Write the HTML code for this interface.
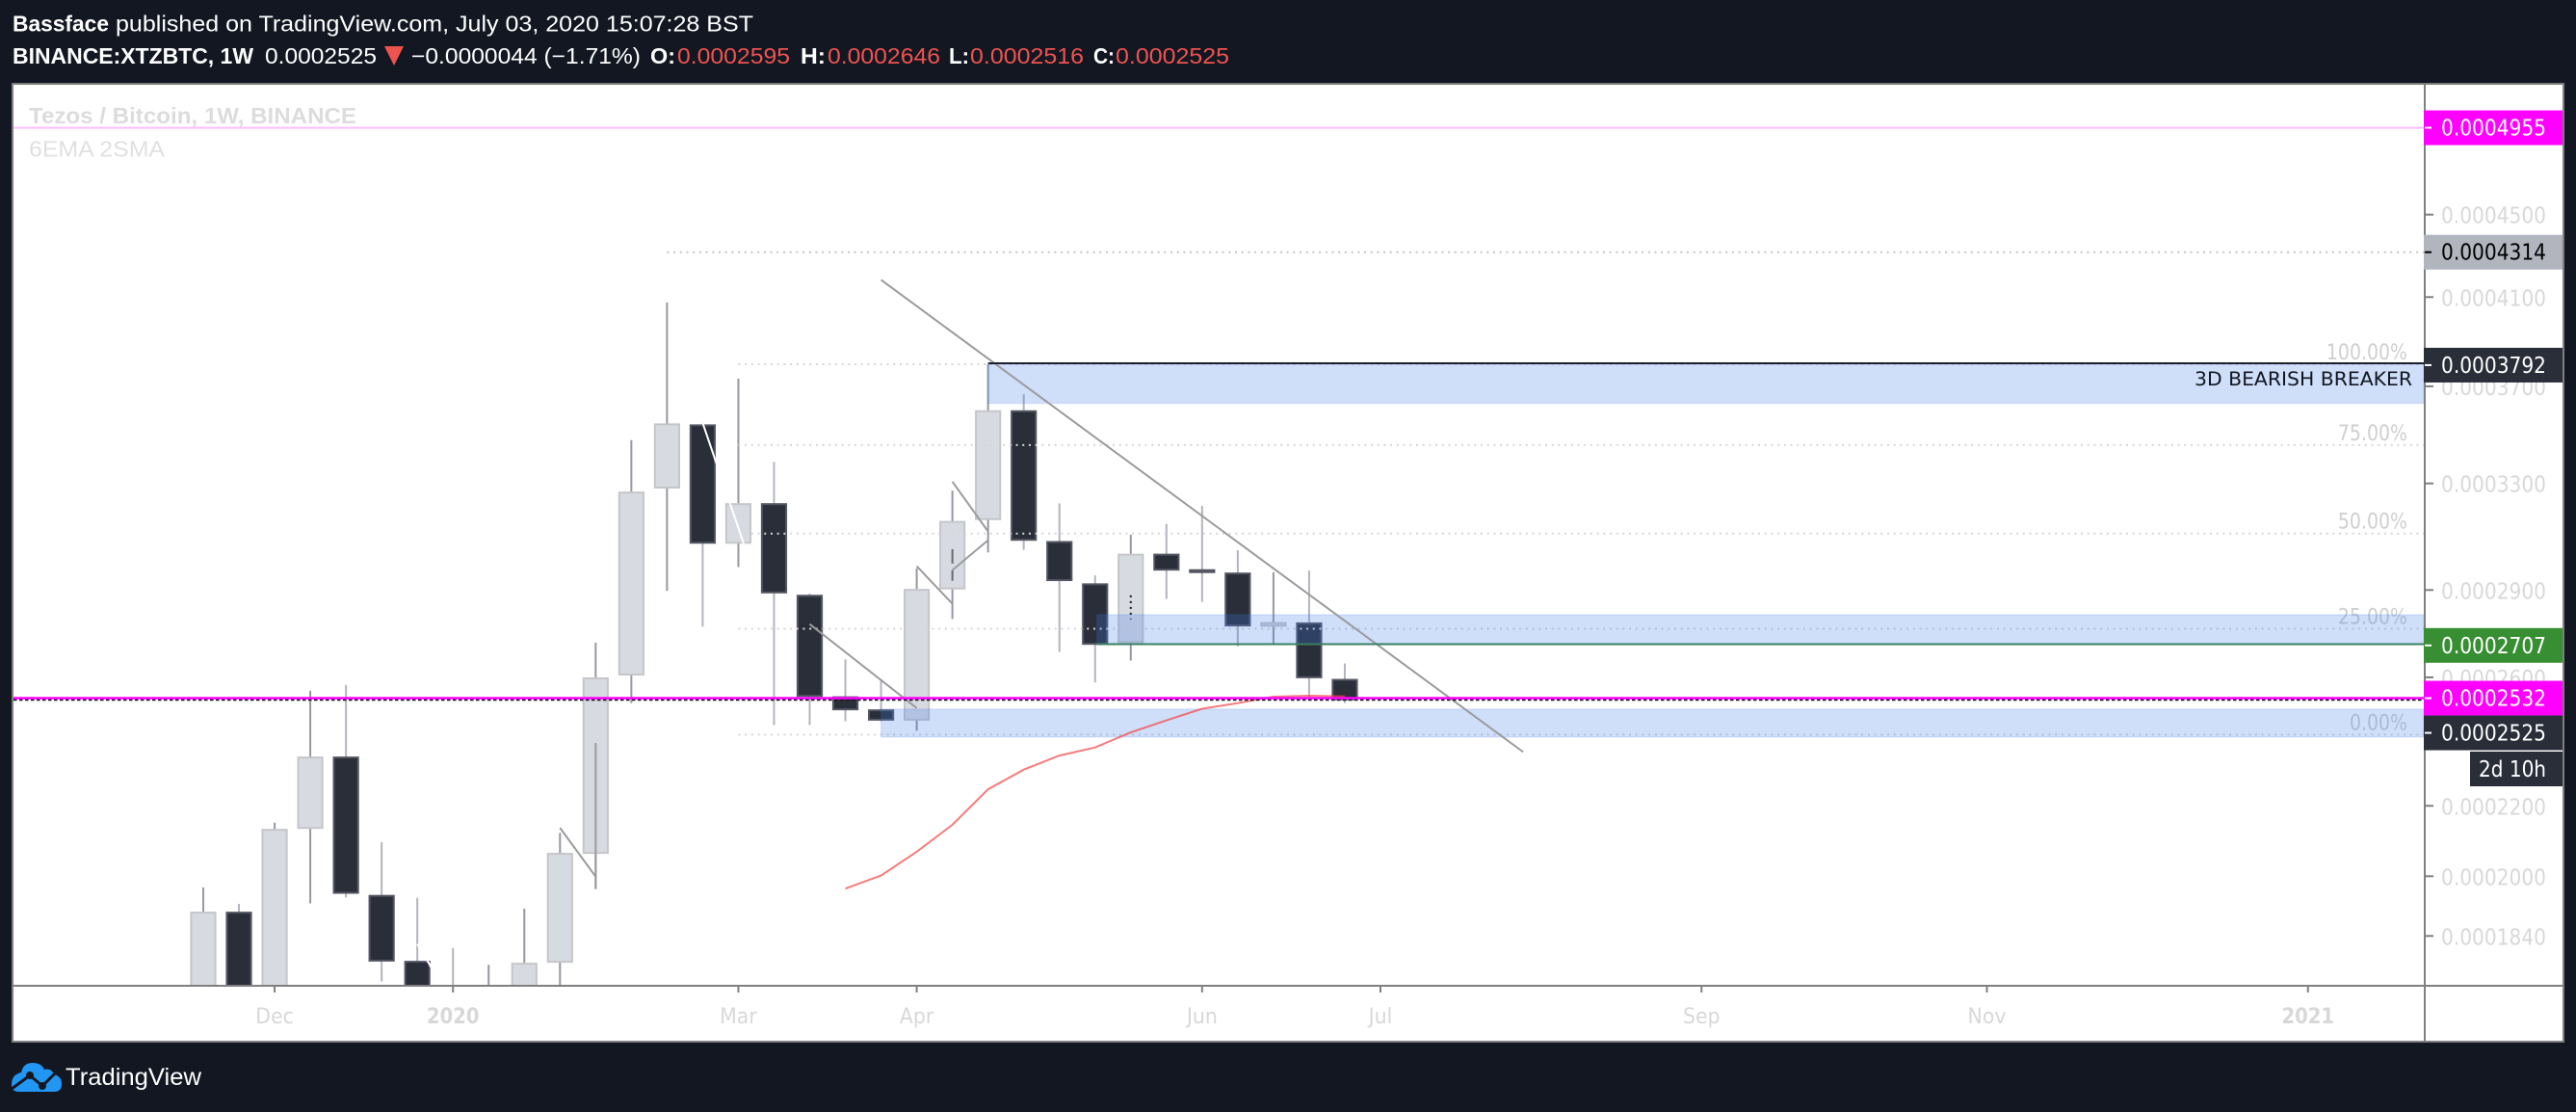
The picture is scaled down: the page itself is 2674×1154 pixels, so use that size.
<!DOCTYPE html>
<html lang="en">
<head>
<meta charset="utf-8">
<title>XTZBTC chart</title>
<style>
  html, body { margin: 0; padding: 0; background: #131722; }
  svg { display: block; }
  .hd { font-family: "Liberation Sans", sans-serif; font-size: 23px; fill: #ffffff; }
  .b { font-weight: bold; }
  .red { fill: #ef5350; }
  .ax { font-family: "DejaVu Sans", sans-serif; font-size: 23px; }
</style>
</head>
<body>
<svg id="root" xmlns="http://www.w3.org/2000/svg" width="2674" height="1154" viewBox="0 0 2674 1154">
  <defs>
    <clipPath id="paneClip"><rect x="14" y="88" width="2502" height="934"></rect></clipPath>
  </defs>
  <rect x="0" y="0" width="2674" height="1154" fill="#131722"></rect>

  <g>
    <text class="hd b" x="13" y="32.5" textLength="100" lengthAdjust="spacingAndGlyphs">Bassface</text>
    <text class="hd" x="120" y="32.5" textLength="662" lengthAdjust="spacingAndGlyphs">published on TradingView.com, July 03, 2020 15:07:28 BST</text>
    <text class="hd b" x="13" y="66" textLength="250" lengthAdjust="spacingAndGlyphs">BINANCE:XTZBTC, 1W</text>
    <text class="hd" x="275" y="66" textLength="116" lengthAdjust="spacingAndGlyphs">0.0002525</text>
    <polygon points="399,48 419,48 409,68" fill="#ef5350"></polygon>
    <text class="hd" x="427" y="66" textLength="238" lengthAdjust="spacingAndGlyphs">−0.0000044 (−1.71%)</text>
    <text class="hd b" x="675" y="66" textLength="26" lengthAdjust="spacingAndGlyphs">O:</text>
    <text class="hd red" x="703" y="66" textLength="117" lengthAdjust="spacingAndGlyphs">0.0002595</text>
    <text class="hd b" x="831" y="66" textLength="26" lengthAdjust="spacingAndGlyphs">H:</text>
    <text class="hd red" x="859" y="66" textLength="117" lengthAdjust="spacingAndGlyphs">0.0002646</text>
    <text class="hd b" x="985" y="66" textLength="21" lengthAdjust="spacingAndGlyphs">L:</text>
    <text class="hd red" x="1007" y="66" textLength="118" lengthAdjust="spacingAndGlyphs">0.0002516</text>
    <text class="hd b" x="1135" y="66" textLength="22" lengthAdjust="spacingAndGlyphs">C:</text>
    <text class="hd red" x="1158" y="66" textLength="118" lengthAdjust="spacingAndGlyphs">0.0002525</text>
  </g>

  <rect x="13" y="87" width="2648" height="994" fill="#ffffff" stroke="#7f7f7f" stroke-width="2"></rect>

  <g id="pane" clip-path="url(#paneClip)">
    <g id="candlesLayer"></g>
    <g id="fibLayer"></g>
    <g id="zoneLayer"></g>
    <g id="emaLayer"></g>
    <g id="drawLayer"></g>
    <g id="levelLayer"></g>
    <text class="ax" x="2278" y="400" textLength="226" lengthAdjust="spacingAndGlyphs" fill="#131722" style="font-size:19.5px">3D BEARISH BREAKER</text>
  </g>

  <text x="30" y="128" font-family="Liberation Sans, sans-serif" font-size="23" font-weight="bold" fill="#dcdcdc" textLength="340" lengthAdjust="spacingAndGlyphs">Tezos / Bitcoin, 1W, BINANCE</text>
  <text x="30" y="162.5" font-family="Liberation Sans, sans-serif" font-size="23" fill="#e0e0e0" textLength="141" lengthAdjust="spacingAndGlyphs">6EMA 2SMA</text>

  <g id="priceAxis"></g>
  <g id="timeAxis"></g>

  <rect x="2516" y="88" width="2" height="992" fill="#7f7f7f"></rect>
  <rect x="14" y="1022" width="2646" height="2" fill="#7f7f7f"></rect>

  <g id="labelLayer"></g>
  <rect x="2564" y="780" width="96" height="36" fill="#2a2e39"></rect>
  <text class="ax" x="2573" y="806" fill="#ffffff" textLength="70" lengthAdjust="spacingAndGlyphs">2d 10h</text>

  <g>
    <path d="M12 1126 Q12 1115 22 1113 Q24 1103 34 1103 Q43 1103 46 1110 Q53 1108 56 1115 Q64 1117 64 1125 Q64 1133 56 1133 L20 1133 Q12 1133 12 1126 Z" fill="#2196f3"></path>
    <polyline points="12,1130 31,1116 44,1127 59,1112" fill="none" stroke="#131722" stroke-width="3"></polyline>
    <circle cx="31" cy="1116" r="4" fill="#131722"></circle>
    <circle cx="44" cy="1127" r="4" fill="#131722"></circle>
    <text x="68" y="1126" font-family="Liberation Sans, sans-serif" font-size="25" fill="#ffffff" textLength="141" lengthAdjust="spacingAndGlyphs">TradingView</text>
  </g>
</svg>

<script>
// ---- Data (prices in units of 1e-7 BTC) ----
const weeks = ["2019-11-18","2019-11-25","2019-12-02","2019-12-09","2019-12-16","2019-12-23","2019-12-30","2020-01-06","2020-01-13","2020-01-20","2020-01-27","2020-02-03","2020-02-10","2020-02-17","2020-02-24","2020-03-02","2020-03-09","2020-03-16","2020-03-23","2020-03-30","2020-04-06","2020-04-13","2020-04-20","2020-04-27","2020-05-04","2020-05-11","2020-05-18","2020-05-25","2020-06-01","2020-06-08","2020-06-15","2020-06-22","2020-06-29"];
const opens  = [1672,1904,1680,2133,2348,1949,1776,1690,1680,1690,1771,2062,2606,3280,3539,3069,3223,2883,2538,2496,2460,2902,3158,3598,3079,2924,2715,3032,2975,2963,2771,2786,2595];
const highs  = [1969,1925,2151,2556,2575,2095,1941,1809,1766,1912,2122,2716,3474,4075,3545,3733,3386,2887,2660,2594,2978,3272,3796,3666,3222,2953,3103,3143,3213,3045,2964,2970,2646];
const lows   = [1650,1650,1660,1926,1942,1724,1650,1650,1650,1670,1690,1965,2516,2897,2771,2983,2446,2446,2458,2458,2428,2798,3037,3046,2685,2583,2656,2868,2858,2704,2713,2536,2516];
const closes = [1904,1680,2133,2348,1952,1774,1680,1680,1690,1771,2065,2600,3268,3543,3069,3223,2888,2536,2493,2460,2904,3155,3598,3080,2932,2709,3032,2970,2961,2772,2787,2597,2525];
const emaStart = 18;
const emaValues = [1966,2002,2068,2145,2249,2308,2351,2376,2423,2461,2498,2516,2537,2540,2538];

const priceTicks = [4500,4100,3700,3300,2900,2600,2200,2000,1840];
const priceTickLabels = ["0.0004500","0.0004100","0.0003700","0.0003300","0.0002900","0.0002600","0.0002200","0.0002000","0.0001840"];
const timeTickWeeks = [2,7,15,20,28,33,42,50,59];
const timeTickLabels = ["Dec","2020","Mar","Apr","Jun","Jul","Sep","Nov","2021"];
const timeTickBold = [false,true,false,false,false,false,false,false,true];

const fibLevels = [3796,3454,3107,2764,2416];
const fibLabels = ["100.00%","75.00%","50.00%","25.00%","0.00%"];
const fibStartWeek = 15;
const grayLevel = 4314;
const grayLevelStartWeek = 13;

const zoneStartWeeks = [22,25.05,19];
const zoneTops = [3796,2813,2497];
const zoneBottoms = [3627,2711,2408];

const axisLabelPrices = [4955,4314,3792,2707,2532,2525];
const axisLabelTexts = ["0.0004955","0.0004314","0.0003792","0.0002707","0.0002532","0.0002525"];
const axisLabelFills = ["#ff00ff","#b2b5be","#2a2e39","#388e32","#ff00ff","#2a2e39"];
const axisLabelInks = ["#ffffff","#000000","#ffffff","#ffffff","#ffffff","#ffffff"];

const trendStartWeeks = [19,17,20,21,21,10];
const trendStartPrices = [4181,2780,2986,2972,3307,2136];
const trendEndWeeks = [37,20,21,22,22,11];
const trendEndPrices = [2362,2500,2851,3082,3115,1999];

const breakerLevel = 3796;
const supportLevel = 2711;
const magentaLevelHigh = 4955;
const magentaLevelLow = 2532;
const lastClose = 2525;

// ---- Axis functions ----
function xOf(week) { return 211 + 37.03 * week; }
function yOf(price) { return 222.7 + 1137 * Math.log(5515 / (price + 1015)); }

const NS = "http://www.w3.org/2000/svg";
function make(tag, parent) {
  const e = document.createElementNS(NS, tag);
  parent.appendChild(e);
  return e;
}
function geom(e, props) {
  for (const k in props) e.setAttribute(k, props[k]);
  return e;
}
function squeeze(t, ratio) {
  t.setAttribute("textLength", (t.getComputedTextLength() * ratio).toFixed(1));
  t.setAttribute("lengthAdjust", "spacingAndGlyphs");
}

const candlesLayer = document.getElementById("candlesLayer");
const fibLayer = document.getElementById("fibLayer");
const zoneLayer = document.getElementById("zoneLayer");
const emaLayer = document.getElementById("emaLayer");
const drawLayer = document.getElementById("drawLayer");
const levelLayer = document.getElementById("levelLayer");
const priceAxis = document.getElementById("priceAxis");
const timeAxis = document.getElementById("timeAxis");
const labelLayer = document.getElementById("labelLayer");

// ---- Candles ----
weeks.forEach(function (wk, i) {
  const up = closes[i] >= opens[i];
  const x = xOf(i);
  const wick = make("line", candlesLayer);
  geom(wick, {x1: x, x2: x, y1: yOf(highs[i]), y2: yOf(lows[i]), stroke: up ? "#9598a1" : "#b2b5be", "stroke-width": 2});
  
  
  const top = yOf(Math.max(opens[i], closes[i]));
  const bot = yOf(Math.min(opens[i], closes[i]));
  const body = make("rect", candlesLayer);
  geom(body, {x: x - 12.6, width: 25.2, y: top + 1, height: Math.max(bot - top - 2, 2),
    fill: up ? "#d8dae1" : "#2a2e39", stroke: up ? "#c5c6ca" : "#545763", "stroke-width": 2});
  
  
});

// ---- Fib ----
fibLevels.forEach(function (lvl, i) {
  const ln = make("line", fibLayer);
  geom(ln, {x1: xOf(fibStartWeek), x2: 2516, y1: yOf(lvl), y2: yOf(lvl), stroke: "#d6d6d6", "stroke-width": 2, "stroke-dasharray": "2 4.7"});
  
  
  const t = make("text", fibLayer);
  geom(t, {x: 2499, y: yOf(lvl) - 5, "text-anchor": "end", fill: "#cfcfcf", "class": "ax", style: "font-size:22.5px"});
  t.textContent = fibLabels[i];
  squeeze(t, 0.84);
  
  
});
const grayLine = make("line", fibLayer);
geom(grayLine, {x1: xOf(grayLevelStartWeek), x2: 2516, y1: yOf(grayLevel), y2: yOf(grayLevel), stroke: "#c4c4c4", "stroke-width": 2, "stroke-dasharray": "2 4.7"});



// ---- Zones ----
zoneStartWeeks.forEach(function (wk, i) {
  const z = make("rect", zoneLayer);
  geom(z, {x: xOf(wk), width: 2516 - xOf(wk), y: yOf(zoneTops[i]), height: yOf(zoneBottoms[i]) - yOf(zoneTops[i]),
    fill: "rgba(62,124,230,0.25)", stroke: "rgba(62,124,230,0.12)", "stroke-width": 1.5});
  
  
});

// ---- EMA ----
const emaLine = make("polyline", emaLayer);
geom(emaLine, {points: emaValues.map(function (v, i) { return xOf(emaStart + i) + "," + yOf(v); }).join(" "),
  fill: "none", stroke: "rgba(244,67,67,0.7)", "stroke-width": 2});



// ---- Trend drawings ----
trendStartWeeks.forEach(function (wk, i) {
  const ln = make("line", drawLayer);
  geom(ln, {x1: xOf(wk), y1: yOf(trendStartPrices[i]), x2: xOf(trendEndWeeks[i]), y2: yOf(trendEndPrices[i]), stroke: "#9b9b9b", "stroke-width": 2});
  
  
});
const vLine = make("line", drawLayer);
geom(vLine, {x1: xOf(11), x2: xOf(11), y1: yOf(2390), y2: yOf(1965), stroke: "#9b9b9b", "stroke-width": 2});


const dashLine = make("line", drawLayer);
geom(dashLine, {x1: xOf(21), x2: xOf(21), y1: yOf(3049), y2: yOf(2933), stroke: "#666a70", "stroke-width": 2, "stroke-dasharray": "15 7"});


const dotLine = make("line", drawLayer);
geom(dotLine, {x1: xOf(26), x2: xOf(26), y1: yOf(2881), y2: yOf(2797), stroke: "#131722", "stroke-width": 2, "stroke-dasharray": "2 4"});


const whiteA = make("line", drawLayer);
geom(whiteA, {x1: xOf(14), y1: yOf(3545), x2: xOf(15.15), y2: yOf(3069), stroke: "#ffffff", "stroke-width": 2});


const whiteB = make("line", drawLayer);
geom(whiteB, {x1: xOf(6), y1: yOf(1819), x2: xOf(6.4), y2: yOf(1758), stroke: "#ffffff", "stroke-width": 2});



// ---- Horizontal levels ----
const breakerLine = make("line", levelLayer);
geom(breakerLine, {x1: xOf(22), x2: 2516, y1: yOf(breakerLevel) - 1, y2: yOf(breakerLevel) - 1, stroke: "#1e222d", "stroke-width": 2});


const supportLine = make("line", levelLayer);
geom(supportLine, {x1: xOf(25.05), x2: 2516, y1: yOf(supportLevel), y2: yOf(supportLevel), stroke: "#3a8063", "stroke-width": 2});


const highLine = make("line", levelLayer);
geom(highLine, {x1: 14, x2: 2516, y1: yOf(magentaLevelHigh), y2: yOf(magentaLevelHigh), stroke: "#ffbdff", "stroke-width": 2});


const lastLine = make("line", levelLayer);
geom(lastLine, {x1: 14, x2: 2516, y1: yOf(lastClose) - 0.5, y2: yOf(lastClose) - 0.5, stroke: "#131722", "stroke-width": 2, "stroke-dasharray": "3.5 2.5"});


const lowLine = make("line", levelLayer);
geom(lowLine, {x1: 14, x2: 2516, y1: yOf(magentaLevelLow), y2: yOf(magentaLevelLow), stroke: "#ff00ff", "stroke-width": 2.5});



// ---- Price axis ----
priceTicks.forEach(function (p, i) {
  const tk = make("line", priceAxis);
  geom(tk, {x1: 2517, x2: 2526, y1: yOf(p), y2: yOf(p), stroke: "#7f7f7f", "stroke-width": 2});
  
  
  const t = make("text", priceAxis);
  geom(t, {x: 2534, y: yOf(p) + 9, fill: "#d8d8d8", "class": "ax", textLength: 109, lengthAdjust: "spacingAndGlyphs"});
  t.textContent = priceTickLabels[i];
  
  
});

// ---- Time axis ----
timeTickWeeks.forEach(function (w, i) {
  const tk = make("line", timeAxis);
  geom(tk, {x1: xOf(w), x2: xOf(w), y1: 1023, y2: 1030, stroke: "#7f7f7f", "stroke-width": 2});
  
  
  const t = make("text", timeAxis);
  geom(t, {x: xOf(w), y: 1062, fill: "#d8d8d8", "text-anchor": "middle", "class": "ax", style: "font-size:22px", "font-weight": timeTickBold[i] ? "bold" : "normal"});
  t.textContent = timeTickLabels[i];
  squeeze(t, timeTickBold[i] ? 0.89 : 0.93);
  
  
});

// ---- Axis price labels (stacked when they collide) ----
let prevCenter = -100;
axisLabelPrices.forEach(function (p, i) {
  let c = yOf(p);
  if (c - prevCenter < 36) c = prevCenter + 36;
  prevCenter = c;
  const box = make("rect", labelLayer);
  geom(box, {x: 2516, y: c - 18, width: 144, height: 36, fill: axisLabelFills[i]});
  
  
  const tk = make("line", labelLayer);
  geom(tk, {x1: 2517, x2: 2524, y1: c, y2: c, stroke: axisLabelInks[i], "stroke-width": 2});
  
  
  const t = make("text", labelLayer);
  geom(t, {x: 2534, y: c + 8, fill: axisLabelInks[i], "class": "ax", textLength: 109, lengthAdjust: "spacingAndGlyphs"});
  t.textContent = axisLabelTexts[i];
  
  
});
</script>
</body>
</html>
